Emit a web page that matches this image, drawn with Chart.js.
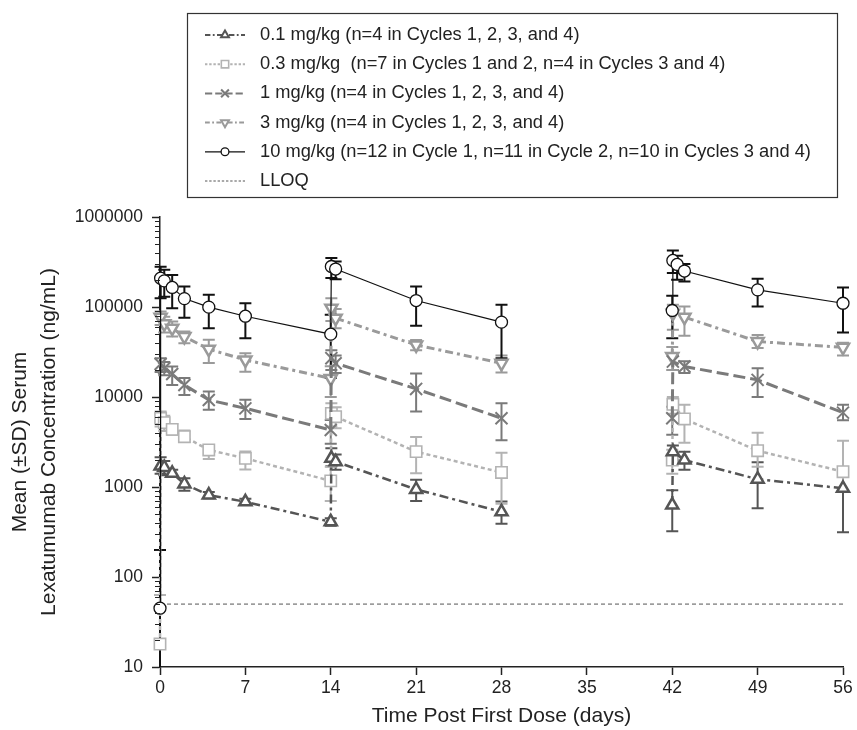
<!DOCTYPE html>
<html>
<head>
<meta charset="utf-8">
<script src="https://cdn.jsdelivr.net/npm/chart.js@4.4.0/dist/chart.umd.min.js"></script>
<style>
  html, body { margin: 0; padding: 0; background: #fff; }
</style>
</head>
<body>
<canvas id="pkChart" width="857" height="730"></canvas>
<script>
// axis ticks
const dayTicks = [0, 7, 14, 21, 28, 35, 42, 49, 56];
const yTickLabels = [10, 100, 1000, 10000, 100000, 1000000];
const lloq = 50;

// 0.1 mg/kg
const days01 = [0.05, 0.35, 1, 2, 4, 7, 14, 14.05, 14.4, 21, 28, 42, 42.05, 43, 49, 56];
const mean01 = [1710, 1650, 1420, 1080, 813, 685, 410, 2080, 1910, 940, 530, 630, 2470, 1990, 1220, 967];
const hi01   = [2140, 1950, 1550, 1250, 880, 740, 450, 2700, 2300, 1200, 690, 923, 2900, 2470, 1880, 1620];
const lo01   = [1400, 1350, 1300, 910, 750, 630, 370, 1700, 1550, 700, 390, 322, 2000, 1550, 580, 315];

// 0.3 mg/kg
const days03 = [0, 0.05, 0.35, 1, 2, 4, 7, 14, 14.05, 14.4, 21, 28, 42, 42.05, 43, 49, 56];
const mean03 = [18, 5800, 5180, 4370, 3620, 2580, 2080, 1170, 6580, 6040, 2470, 1450, 1990, 8300, 5700, 2530, 1480];
const hi03   = [63, 6900, 6200, 5000, 4240, 2800, 2480, 1680, 8500, 7700, 3600, 2400, 2600, 10000, 8180, 4010, 3270];
const lo03   = [0, 4700, 4200, 3800, 3170, 2050, 1560, 700, 4700, 4500, 1420, 650, 1400, 6500, 3100, 1680, 900];

// 1 mg/kg
const days1 = [0.05, 0.35, 1, 2, 4, 7, 14, 14.05, 14.4, 21, 28, 42, 42.05, 43, 49, 56];
const mean1 = [23300, 20900, 18000, 13600, 9270, 7480, 4300, 27000, 23700, 12300, 5800, 5800, 24700, 21800, 15500, 6700];
const hi1   = [27000, 24500, 21800, 16300, 11500, 9300, 5550, 33000, 29000, 18300, 8500, 7800, 29000, 25000, 20800, 8180];
const lo1   = [19000, 17500, 13600, 10500, 7200, 5700, 3030, 20000, 18500, 6900, 3300, 3800, 20000, 18500, 10000, 5520];

// 3 mg/kg
const days3 = [0.05, 0.35, 1, 2, 4, 7, 14, 14.05, 14.4, 21, 28, 42, 42.05, 43, 49, 56];
const mean3 = [77100, 65000, 58200, 46900, 34000, 25800, 16100, 97000, 75200, 37900, 23700, 28100, 85000, 77100, 41300, 35700];
const hi3   = [89000, 78000, 69000, 53300, 43200, 30600, 22000, 125000, 95000, 43000, 29000, 36000, 106000, 101000, 49000, 40000];
const lo3   = [63000, 52000, 47000, 39500, 23800, 19100, 10000, 70000, 58000, 33000, 18700, 20000, 56000, 48000, 35000, 29000];

// 10 mg/kg
const days10 = [0, 0.05, 0.35, 1, 2, 4, 7, 14, 14.05, 14.4, 21, 28, 42, 42.05, 42.4, 43, 49, 56];
const mean10 = [45, 209000, 195000, 165000, 124000, 99600, 79000, 49900, 282000, 264000, 118000, 67900, 91400, 329000, 297000, 251000, 155000, 110000];
const hi10   = [200, 280000, 260000, 227000, 169000, 137000, 110000, 81800, 350000, 320000, 169000, 106000, 133000, 425000, 371000, 300000, 206000, 165000];
const lo10   = [0, 125000, 130000, 97000, 76000, 58000, 45000, 16300, 210000, 204000, 62000, 27000, 45000, 238000, 201000, 192000, 101000, 52000];

const FONT = "'Liberation Sans', Arial, Helvetica, sans-serif";
Chart.defaults.font.family = FONT;
Chart.defaults.color = '#222';

function series(label, days, mean, hi, lo, style) {
  return Object.assign({
    label: label,
    data: days.map((d, i) => ({ x: d, y: mean[i] })),
    errHi: hi,
    errLo: lo,
    fill: false,
    tension: 0,
    spanGaps: 10,   // breaks the line across the day 28 -> 42 gap
    clip: false,
    pointBackgroundColor: '#fff'
  }, style);
}

const datasets = [
  series('0.1 mg/kg (n=4 in Cycles 1, 2, 3, and 4)', days01, mean01, hi01, lo01, {
    borderColor: '#555', pointBorderColor: '#555', borderWidth: 2.5, borderDash: [9, 4, 3, 4],
    pointStyle: 'triangle', pointRadius: 7, pointBorderWidth: 2.5, order: 1
  }),
  series('0.3 mg/kg  (n=7 in Cycles 1 and 2, n=4 in Cycles 3 and 4)', days03, mean03, hi03, lo03, {
    borderColor: '#b3b3b3', pointBorderColor: '#b3b3b3', borderWidth: 2.5, borderDash: [4, 3],
    pointStyle: 'rect', pointRadius: 8, pointBorderWidth: 1.6, order: 4
  }),
  series('1 mg/kg (n=4 in Cycles 1, 2, 3, and 4)', days1, mean1, hi1, lo1, {
    borderColor: '#7a7a7a', pointBorderColor: '#7a7a7a', borderWidth: 3, borderDash: [12, 5],
    pointStyle: 'crossRot', pointRadius: 8.5, pointBorderWidth: 2, order: 2
  }),
  series('3 mg/kg (n=4 in Cycles 1, 2, 3, and 4)', days3, mean3, hi3, lo3, {
    borderColor: '#9a9a9a', pointBorderColor: '#9a9a9a', borderWidth: 3, borderDash: [8, 4, 3, 4],
    pointStyle: 'triangle', pointRotation: 180, pointRadius: 7, pointBorderWidth: 2.5, order: 3
  }),
  series('10 mg/kg (n=12 in Cycle 1, n=11 in Cycle 2, n=10 in Cycles 3 and 4)', days10, mean10, hi10, lo10, {
    borderColor: '#111', pointBorderColor: '#111', borderWidth: 1.2,
    pointStyle: 'circle', pointRadius: 6, pointBorderWidth: 1.3, order: 0
  }),
  {
    label: 'LLOQ',
    data: [{ x: 0, y: lloq }, { x: 56, y: lloq }],
    borderColor: '#555', borderWidth: 1, borderDash: [4, 3],
    pointRadius: 0, fill: false, order: 5
  }
];

// vertical SD bars, placed with the y scale
const errorBars = {
  id: 'errorBars',
  beforeDatasetsDraw(chart) {
    const { ctx, chartArea } = chart;
    const y = chart.scales.y;
    chart.data.datasets.forEach((ds, i) => {
      if (!ds.errHi) return;
      const meta = chart.getDatasetMeta(i);
      ctx.save();
      ctx.strokeStyle = ds.borderColor;
      ctx.lineWidth = 2;
      meta.data.forEach((pt, j) => {
        const hi = ds.errHi[j], lo = ds.errLo[j];
        const top = y.getPixelForValue(hi);
        const inRange = lo > y.min;
        const bot = inRange ? y.getPixelForValue(lo) : chartArea.bottom;
        ctx.beginPath();
        ctx.moveTo(pt.x, top); ctx.lineTo(pt.x, bot);
        ctx.moveTo(pt.x - 6, top); ctx.lineTo(pt.x + 6, top);
        if (inRange) { ctx.moveTo(pt.x - 6, bot); ctx.lineTo(pt.x + 6, bot); }
        ctx.stroke();
      });
      ctx.restore();
    });
  }
};

// short minor ticks on the log axis
const minorTicks = {
  id: 'minorTicks',
  afterDraw(chart) {
    const { ctx, chartArea } = chart;
    const y = chart.scales.y;
    ctx.save();
    ctx.strokeStyle = '#222';
    ctx.lineWidth = 1;
    ctx.beginPath();
    for (let k = 0; k < yTickLabels.length - 1; k++) {
      for (let m = 2; m <= 9; m++) {
        const py = Math.round(y.getPixelForValue(yTickLabels[k] * m)) + 0.5;
        ctx.moveTo(chartArea.left - 5, py);
        ctx.lineTo(chartArea.left, py);
      }
    }
    ctx.stroke();
    ctx.restore();
  }
};

// boxed legend with line + marker samples
const legendBox = {
  id: 'legendBox',
  afterDraw(chart) {
    const ctx = chart.ctx;
    ctx.save();
    ctx.strokeStyle = '#333';
    ctx.lineWidth = 1.2;
    ctx.strokeRect(187.5, 13.5, 650, 184);
    chart.data.datasets.forEach((ds, i) => {
      const yy = 35 + i * 29.2;
      ctx.strokeStyle = ds.borderColor;
      ctx.lineWidth = Math.min(ds.borderWidth, 2);
      ctx.setLineDash(ds.borderDash ? ds.borderDash.map(v => v * 0.6) : []);
      ctx.beginPath();
      ctx.moveTo(205, yy);
      ctx.lineTo(245, yy);
      ctx.stroke();
      ctx.setLineDash([]);
      if (ds.pointRadius) {
        ctx.fillStyle = '#fff';
        ctx.lineWidth = Math.min(ds.pointBorderWidth, 2);
        Chart.helpers.drawPoint(ctx, {
          pointStyle: ds.pointStyle,
          rotation: ds.pointRotation || 0,
          radius: ds.pointRadius * 0.65,
          borderWidth: ds.pointBorderWidth
        }, 225, yy);
      }
      ctx.fillStyle = '#222';
      ctx.font = '18.3px ' + FONT;
      ctx.textBaseline = 'middle';
      ctx.fillText(ds.label, 260, yy);
    });
    ctx.restore();
  }
};

new Chart(document.getElementById('pkChart'), {
  type: 'line',
  data: { datasets: datasets },
  options: {
    responsive: false,
    devicePixelRatio: 1,
    animation: false,
    events: [],
    layout: { padding: { top: 217, right: 14, left: 0, bottom: 0 } },
    plugins: { legend: { display: false }, tooltip: { enabled: false } },
    scales: {
      x: {
        type: 'linear',
        min: 0,
        max: 56,
        afterBuildTicks: s => { s.ticks = dayTicks.map(v => ({ value: v })); },
        afterFit: s => { s.height = 63; },
        ticks: { font: { size: 17.5 }, color: '#222', padding: 3, maxRotation: 0, autoSkip: false },
        grid: { drawOnChartArea: false, tickLength: 8, tickColor: '#222', tickWidth: 1.5 },
        border: { color: '#222', width: 1.5 },
        title: {
          display: true,
          text: 'Time Post First Dose (days)',
          font: { size: 21 },
          color: '#222',
          padding: { top: 0, bottom: 1 }
        }
      },
      y: {
        type: 'logarithmic',
        min: 10,
        max: 1000000,
        afterBuildTicks: s => { s.ticks = yTickLabels.map(v => ({ value: v })); },
        afterFit: s => { s.width = 160; },
        ticks: { font: { size: 17.5 }, color: '#222', padding: 9, callback: v => String(v), autoSkip: false },
        grid: { drawOnChartArea: false, tickLength: 8, tickColor: '#222', tickWidth: 1.5 },
        border: { color: '#222', width: 1.5 },
        title: {
          display: true,
          text: ['Mean (\u00B1SD) Serum', 'Lexatumumab Concentration (ng/mL)'],
          font: { size: 21, lineHeight: 1.38 },
          color: '#222',
          padding: { top: 6, bottom: 0 }
        }
      }
    }
  },
  plugins: [errorBars, minorTicks, legendBox]
});
</script>
</body>
</html>
